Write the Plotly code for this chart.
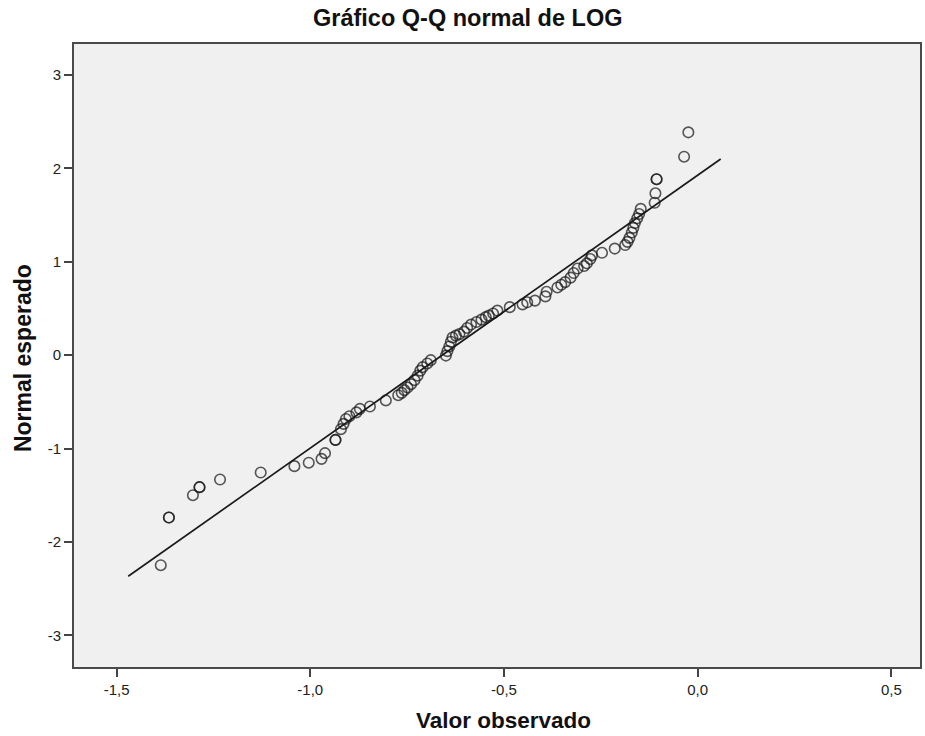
import plotly.graph_objects as go

# Observed values of LOG and their expected normal scores (one entry per distinct circle)
obs_values = [
    -1.386, -1.365, -1.303, -1.286, -1.233, -1.128, -1.041, -1.004, -0.971, -0.962,
    -0.935, -0.921, -0.914, -0.908, -0.899, -0.881, -0.872, -0.846, -0.805, -0.773,
    -0.764, -0.757, -0.749, -0.740, -0.731, -0.723, -0.716, -0.710, -0.698, -0.689,
    -0.650, -0.646, -0.641, -0.637, -0.633, -0.624, -0.615, -0.603, -0.595, -0.585,
    -0.571, -0.558, -0.547, -0.539, -0.528, -0.517, -0.485, -0.452, -0.440, -0.420,
    -0.393, -0.390, -0.362, -0.352, -0.342, -0.328, -0.320, -0.310, -0.293, -0.286,
    -0.277, -0.273, -0.247, -0.214, -0.187, -0.181, -0.176, -0.170, -0.166, -0.162,
    -0.156, -0.151, -0.147, -0.111, -0.109, -0.106, -0.035, -0.024,
]
expected_normal = [
    -2.250, -1.739, -1.500, -1.414, -1.332, -1.257, -1.189, -1.152, -1.111, -1.050,
    -0.908, -0.793, -0.736, -0.684, -0.654, -0.613, -0.576, -0.550, -0.485, -0.429,
    -0.404, -0.375, -0.346, -0.311, -0.268, -0.220, -0.166, -0.129, -0.089, -0.054,
    -0.005, 0.043, 0.093, 0.143, 0.188, 0.209, 0.225, 0.252, 0.291, 0.327,
    0.354, 0.380, 0.407, 0.423, 0.445, 0.477, 0.514, 0.543, 0.566, 0.584,
    0.629, 0.678, 0.725, 0.753, 0.782, 0.830, 0.879, 0.927, 0.954, 0.983,
    1.029, 1.068, 1.096, 1.141, 1.179, 1.213, 1.256, 1.313, 1.363, 1.414,
    1.465, 1.511, 1.566, 1.632, 1.733, 1.884, 2.125, 2.386,
]
# number of tied cases sharing each circle
tie_counts = [
    1, 2, 1, 2, 1, 1, 1, 1, 1, 1,
    2, 1, 1, 1, 1, 1, 1, 1, 1, 1,
    1, 1, 1, 1, 1, 1, 1, 1, 1, 1,
    1, 1, 1, 1, 1, 1, 1, 1, 1, 1,
    1, 1, 1, 1, 1, 1, 1, 1, 1, 1,
    1, 1, 1, 1, 1, 1, 1, 1, 1, 1,
    1, 1, 1, 1, 1, 1, 1, 1, 1, 1,
    1, 1, 1, 1, 1, 2, 1, 1,
]

# Reference line of the normal distribution
line_x = [-1.470, 0.0595]
line_y = [-2.368, 2.100]

x_tick_vals = [-1.5, -1.0, -0.5, 0.0, 0.5]
x_tick_text = ["-1,5", "-1,0", "-0,5", "0,0", "0,5"]
y_tick_vals = [-3, -2, -1, 0, 1, 2, 3]
y_tick_text = ["-3", "-2", "-1", "0", "1", "2", "3"]

title_text = "Gráfico Q-Q normal de LOG"
x_title = "Valor observado"
y_title = "Normal esperado"

# Expand ties so overlapping circles draw darker
pts_x, pts_y = [], []
for xv, yv, c in zip(obs_values, expected_normal, tie_counts):
    pts_x += [xv] * c
    pts_y += [yv] * c

FONT = "Liberation Sans, Arial, sans-serif"
INK = "rgba(25,25,25,0.72)"

fig = go.Figure()
fig.add_trace(go.Scatter(
    x=line_x, y=line_y, mode="lines",
    line=dict(color="#1a1a1a", width=1.7),
    hoverinfo="skip", showlegend=False,
))
fig.add_trace(go.Scatter(
    x=pts_x, y=pts_y, mode="markers",
    marker=dict(symbol="circle-open", size=10.5, color=INK,
                line=dict(width=1.6, color=INK)),
    showlegend=False,
))

fig.update_layout(
    width=925, height=736,
    margin=dict(l=74, r=3, t=44, b=69),
    paper_bgcolor="white",
    plot_bgcolor="#f0f0f0",
    font=dict(family=FONT, size=15, color="#222"),
    showlegend=False,
)
axis_common = dict(
    ticks="outside", ticklen=8, tickwidth=1.5, tickcolor="#444",
    showline=True, linecolor="#4a4a4a", linewidth=2, mirror=True,
    showgrid=False, zeroline=False,
    tickfont=dict(family=FONT, size=15, color="#222"),
)
fig.update_xaxes(range=[-1.610, 0.574], tickvals=x_tick_vals,
                 ticktext=x_tick_text, **axis_common)
fig.update_yaxes(range=[-3.34, 3.332], tickvals=y_tick_vals,
                 ticktext=y_tick_text, **axis_common)

fig.add_annotation(
    text=f"<b>{title_text}</b>", xref="paper", yref="paper",
    x=(468 - 74) / 848, y=1.0, yshift=44 - 18, xanchor="center", yanchor="middle",
    showarrow=False, font=dict(family=FONT, size=23.5, color="#111"),
)
fig.add_annotation(
    text=f"<b>{x_title}</b>", xref="paper", yref="paper",
    x=(505 - 74) / 848, y=0.0, yshift=-(720 - 667), xanchor="center", yanchor="middle",
    showarrow=False, font=dict(family=FONT, size=22.5, color="#111"),
)
fig.add_annotation(
    text=f"<b>{y_title}</b>", xref="paper", yref="paper",
    x=(23 - 74) / 848, y=(667 - 358) / 623, textangle=-90,
    xanchor="center", yanchor="middle",
    showarrow=False, font=dict(family=FONT, size=23, color="#111"),
)

fig.write_html("out.html")
